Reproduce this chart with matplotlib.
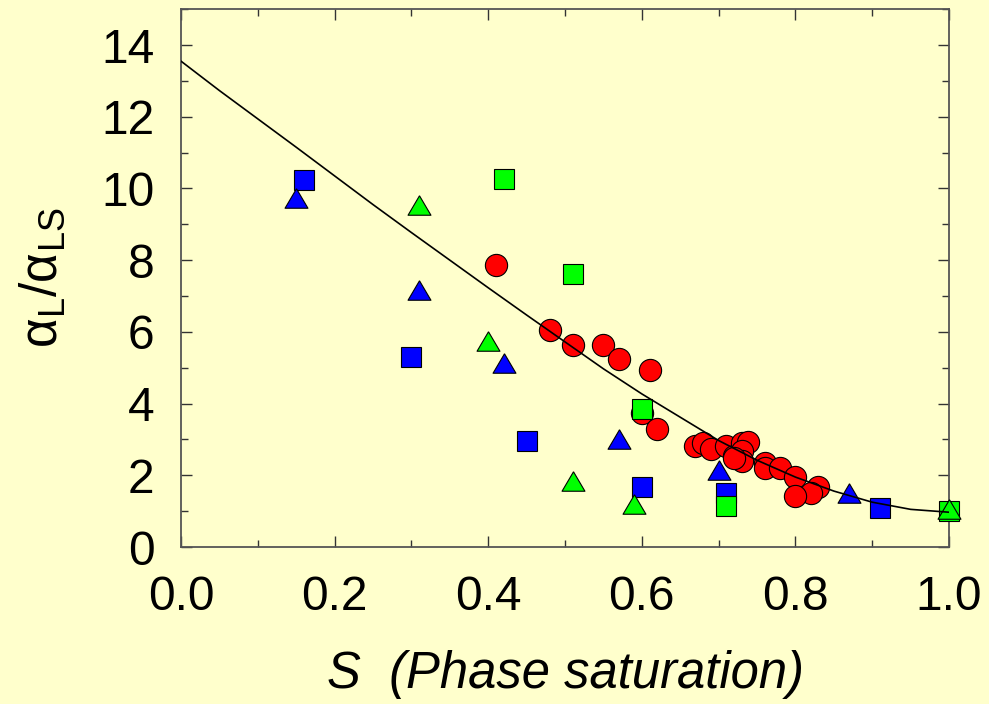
import numpy as np
import matplotlib.pyplot as plt
from matplotlib.ticker import MultipleLocator

# Dispersivity ratio vs. phase saturation
red_circle_s = [0.41, 0.48, 0.51, 0.55, 0.57, 0.61, 0.60, 0.62, 0.669, 0.68, 0.69, 0.71,
                0.72, 0.73, 0.738, 0.73, 0.73, 0.72, 0.76, 0.76, 0.78, 0.80, 0.83, 0.82, 0.80]
red_circle_a = [7.87, 6.04, 5.63, 5.63, 5.24, 4.93, 3.74, 3.30, 2.83, 2.91, 2.72, 2.83,
                2.55, 2.90, 2.94, 2.69, 2.41, 2.47, 2.33, 2.20, 2.20, 1.95, 1.66, 1.50, 1.42]

blue_square_s = [0.16, 0.30, 0.45, 0.60, 0.71, 0.91]
blue_square_a = [10.23, 5.30, 2.97, 1.67, 1.50, 1.08]

blue_triangle_s = [0.15, 0.31, 0.42, 0.57, 0.70, 0.87]
blue_triangle_a = [9.73, 7.18, 5.13, 3.00, 2.16, 1.52]

green_square_s = [0.42, 0.51, 0.60, 0.71, 1.00]
green_square_a = [10.25, 7.60, 3.85, 1.13, 1.00]

green_triangle_s = [0.31, 0.40, 0.51, 0.59, 1.00]
green_triangle_a = [9.54, 5.74, 1.85, 1.19, 1.05]

# fitted trend curve
fit_s = [0.00, 0.05, 0.10, 0.15, 0.20, 0.25, 0.30, 0.35, 0.40, 0.45, 0.50,
         0.55, 0.60, 0.65, 0.70, 0.75, 0.80, 0.85, 0.90, 0.95, 1.00]
fit_a = [13.55, 12.73, 11.94, 11.15, 10.35, 9.55, 8.77, 8.00, 7.23, 6.47, 5.72,
         4.97, 4.27, 3.62, 2.97, 2.42, 1.95, 1.56, 1.25, 1.05, 0.97]

bg = '#FFFFCC'
plt.rcParams['font.family'] = ['Liberation Sans', 'DejaVu Sans']
plt.rcParams['mathtext.fontset'] = 'custom'
plt.rcParams['mathtext.rm'] = 'Liberation Sans'
plt.rcParams['mathtext.it'] = 'Liberation Sans:italic'

# slightly flattened up-triangle
tri = [(0, 0.85), (-1, -0.85), (1, -0.85), (0, 0.85)]

fig = plt.figure(figsize=(9.89, 7.04), dpi=100, facecolor=bg)
ax = fig.add_axes([0.183, 0.223, 0.7766, 0.764])
ax.set_facecolor(bg)

mk = dict(linestyle='none', markeredgecolor='black', markeredgewidth=0.8, clip_on=False)
ax.plot(red_circle_s, red_circle_a, marker='o', markersize=16, color='#FF0000', zorder=3, **mk)
ax.plot(blue_square_s, blue_square_a, marker='s', markersize=14, color='#0000FF', zorder=4, **mk)
ax.plot(blue_triangle_s, blue_triangle_a, marker=tri, markersize=16.5, color='#0000FF', zorder=5, **mk)
ax.plot(green_square_s, green_square_a, marker='s', markersize=14, color='#00FF00', zorder=6, **mk)
ax.plot(green_triangle_s, green_triangle_a, marker=tri, markersize=16.5, color='#00FF00', zorder=7, **mk)
ax.plot(fit_s, fit_a, color='black', linewidth=1.2, zorder=8)

ax.set_xlim(0, 1.0)
ax.set_ylim(0, 15)
ax.xaxis.set_major_locator(MultipleLocator(0.2))
ax.xaxis.set_minor_locator(MultipleLocator(0.1))
ax.yaxis.set_major_locator(MultipleLocator(2))
ax.yaxis.set_minor_locator(MultipleLocator(1))
ax.xaxis.set_major_formatter(lambda v, pos: f'{v:.1f}')
ax.tick_params(which='both', direction='in', top=True, right=True, width=1.0,
               colors='#333333', labelcolor='black', labelsize=34.5)
ax.tick_params(which='major', length=8)
ax.tick_params(which='minor', length=5)
ax.tick_params(axis='x', pad=20)
ax.tick_params(axis='y', pad=19)
for sp in ax.spines.values():
    sp.set_color('#555555')
    sp.set_linewidth(1.3)

ax.set_xlabel('S  (Phase saturation)', fontsize=36.5, style='italic', labelpad=22)
ax.set_ylabel(r'α$_\mathregular{L}$/α$_\mathregular{LS}$', fontsize=37)
ax.yaxis.set_label_coords(-0.147, 0.5)

fig.savefig('out.png', dpi=100, facecolor=bg)
